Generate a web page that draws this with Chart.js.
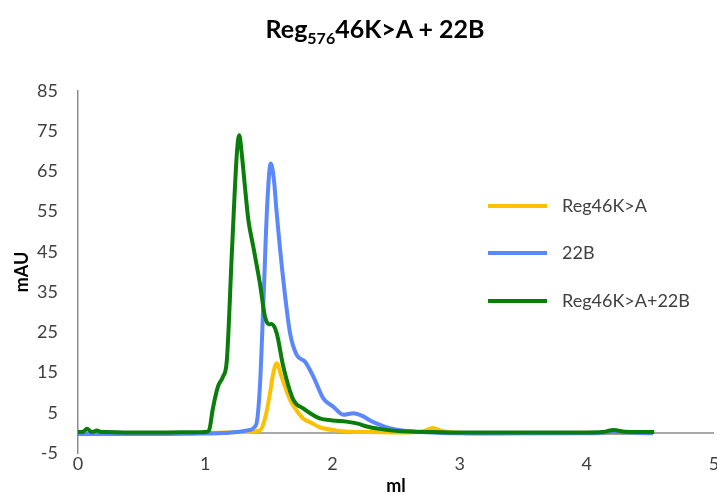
<!DOCTYPE html>
<html>
<head>
<meta charset="utf-8">
<script src="https://cdn.jsdelivr.net/npm/chart.js@4/dist/chart.umd.min.js"></script>
<style>
  html, body { margin:0; padding:0; background:#fff; }
  #wrap { position:relative; width:717px; height:497px; }
  #title { position:absolute; top:13px; left:375px; transform:translateX(-50%); white-space:nowrap;
           font-family:Lato, "Open Sans", sans-serif; font-weight:bold; font-size:25px; color:#000; }
  #title sub { font-size:16px; vertical-align:-6px; line-height:0; }
  canvas { position:absolute; left:0; top:0; }
</style>
</head>
<body>
<div id="wrap">
  <canvas id="c" width="717" height="497"></canvas>
  <div id="title">Reg<sub>576</sub>46K&gt;A + 22B</div>
</div>
<script>
// ---- data ----
const seriesNames = ["Reg46K>A", "22B", "Reg46K>A+22B"];
const seriesColors = ["#FFC000", "#5B87FF", "#0A7D0A"];
const drawOrder = [2, 1, 0];

const yellowX = [0, 0.5, 1.0, 1.3, 1.43, 1.46, 1.48, 1.51, 1.535, 1.562, 1.60, 1.667, 1.72, 1.77, 1.84, 1.90, 2.06, 2.3, 2.6, 2.72, 2.79, 2.86, 2.95, 3.2, 3.5, 4.0, 4.52];
const yellowY = [-0.1, -0.1, 0, 0.2, 0.6, 2.5, 4.9, 10, 14.8, 17.3, 14, 8.2, 5.5, 3.6, 2.4, 1.4, 0.5, 0.2, 0.1, 0.5, 1.2, 0.5, 0.1, -0.2, -0.1, 0, 0];

const blueX = [0, 0.3, 0.6, 0.9, 1.1, 1.25, 1.33, 1.40, 1.43, 1.457, 1.488, 1.515, 1.54, 1.562, 1.614, 1.667, 1.719, 1.785, 1.85, 1.928, 2.007, 2.086, 2.164, 2.243, 2.30, 2.374, 2.45, 2.55, 2.7, 3.0, 3.5, 4.0, 4.2, 4.52];
const blueY = [-0.3, -0.3, -0.3, -0.2, -0.1, 0.2, 0.6, 2, 11.5, 32, 57, 67, 63, 54.7, 38, 24.8, 19.4, 17.7, 14, 8.6, 6.5, 4.5, 4.9, 4.1, 3.0, 2.0, 1.2, 0.6, 0.2, -0.1, -0.1, -0.1, 0.1, -0.1];

const greenX = [0, 0.04, 0.07, 0.11, 0.15, 0.18, 0.22, 0.4, 0.6, 0.8, 1.0, 1.03, 1.06, 1.10, 1.14, 1.17, 1.21, 1.25, 1.268, 1.287, 1.313, 1.339, 1.378, 1.43, 1.47, 1.50, 1.523, 1.562, 1.614, 1.693, 1.77, 1.90, 2.00, 2.11, 2.20, 2.27, 2.37, 2.5, 2.65, 2.8, 3.0, 3.5, 4.0, 4.12, 4.21, 4.3, 4.4, 4.53];
const greenY = [0.2, 0.3, 1.0, 0.2, 0.6, 0.2, 0.2, 0.1, 0.1, 0.15, 0.2, 0.6, 6, 11.5, 14, 18, 45, 70, 74, 69.5, 61, 53, 46.3, 37.2, 28.9, 27, 27.1, 24.8, 16.5, 8.2, 6.1, 3.6, 3.1, 2.8, 2.3, 1.6, 1.0, 0.5, 0.3, 0.2, 0.1, 0.1, 0.1, 0.2, 0.7, 0.3, 0.2, 0.2];

const xTickValues = [0, 1, 2, 3, 4, 5];
const yTickValues = [-5, 5, 15, 25, 35, 45, 55, 65, 75, 85];
const xTitle = "ml";
const yTitle = "mAU";

// ---- build ----
function zip(xs, ys) { return xs.map((x, i) => ({ x: x, y: ys[i] })); }
const seriesData = [zip(yellowX, yellowY), zip(blueX, blueY), zip(greenX, greenY)];

const FONT = "Lato, 'Open Sans', sans-serif";
const TXT = "#404040";

const zeroLine = {
  id: 'zeroLine',
  beforeDatasetsDraw(chart) {
    const ctx = chart.ctx, a = chart.chartArea;
    const y = chart.scales.y.getPixelForValue(0);
    ctx.save();
    ctx.strokeStyle = '#8C8C8C';
    ctx.lineWidth = 1.5;
    ctx.beginPath();
    ctx.moveTo(a.left, y);
    ctx.lineTo(a.right, y);
    ctx.stroke();
    ctx.restore();
  }
};

const customLegend = {
  id: 'customLegend',
  afterDraw(chart) {
    const ctx = chart.ctx;
    const x0 = 488, x1 = 547, tx = 562;
    const ys = [206, 253, 301];
    ctx.save();
    ctx.font = "18px " + FONT;
    ctx.textBaseline = 'middle';
    ctx.textAlign = 'left';
    chart.data.datasets.forEach((ds, i) => {
      ctx.strokeStyle = ds.borderColor;
      ctx.lineWidth = 4;
      ctx.beginPath();
      ctx.moveTo(x0, ys[i]);
      ctx.lineTo(x1, ys[i]);
      ctx.stroke();
      ctx.fillStyle = TXT;
      ctx.fillText(ds.label, tx, ys[i]);
    });
    ctx.restore();
  }
};

new Chart(document.getElementById('c'), {
  type: 'line',
  data: {
    datasets: seriesNames.map((name, i) => ({
      label: name,
      data: seriesData[i],
      order: drawOrder[i],
      borderColor: seriesColors[i],
      backgroundColor: seriesColors[i],
      borderWidth: 4,
      pointRadius: 0,
      fill: false,
      cubicInterpolationMode: 'monotone',
      tension: 0.4
    }))
  },
  options: {
    responsive: false,
    animation: false,
    layout: { padding: { top: 91, right: 3, left: 0, bottom: 0 } },
    plugins: { legend: { display: false }, title: { display: false }, tooltip: { enabled: false } },
    scales: {
      x: {
        type: 'linear', min: 0, max: 5,
        afterBuildTicks(s) { s.ticks = xTickValues.map(v => ({ value: v })); },
        afterFit(s) { s.height = 44; s.paddingLeft = 0; s.paddingRight = 0; },
        grid: { display: false, drawTicks: false },
        border: { display: false },
        ticks: { padding: 0, color: TXT, font: { family: FONT, size: 18 }, maxRotation: 0 },
        title: { display: true, text: xTitle, color: '#000', font: { family: FONT, size: 18, weight: 'bold' }, padding: { top: 0, bottom: 0 } }
      },
      y: {
        type: 'linear', min: -5, max: 85,
        afterBuildTicks(s) { s.ticks = yTickValues.map(v => ({ value: v })); },
        afterFit(s) { s.width = 78; s.paddingTop = 0; s.paddingBottom = 0; },
        grid: { display: false, drawTicks: false },
        border: { display: true, color: '#8C8C8C', width: 1.5 },
        ticks: { padding: 20, color: TXT, font: { family: FONT, size: 18 } },
        title: { display: true, text: yTitle, color: '#000', font: { family: FONT, size: 18, weight: 'bold' }, padding: { top: 11, bottom: 0 } }
      }
    }
  },
  plugins: [zeroLine, customLegend]
});
</script>
</body>
</html>
